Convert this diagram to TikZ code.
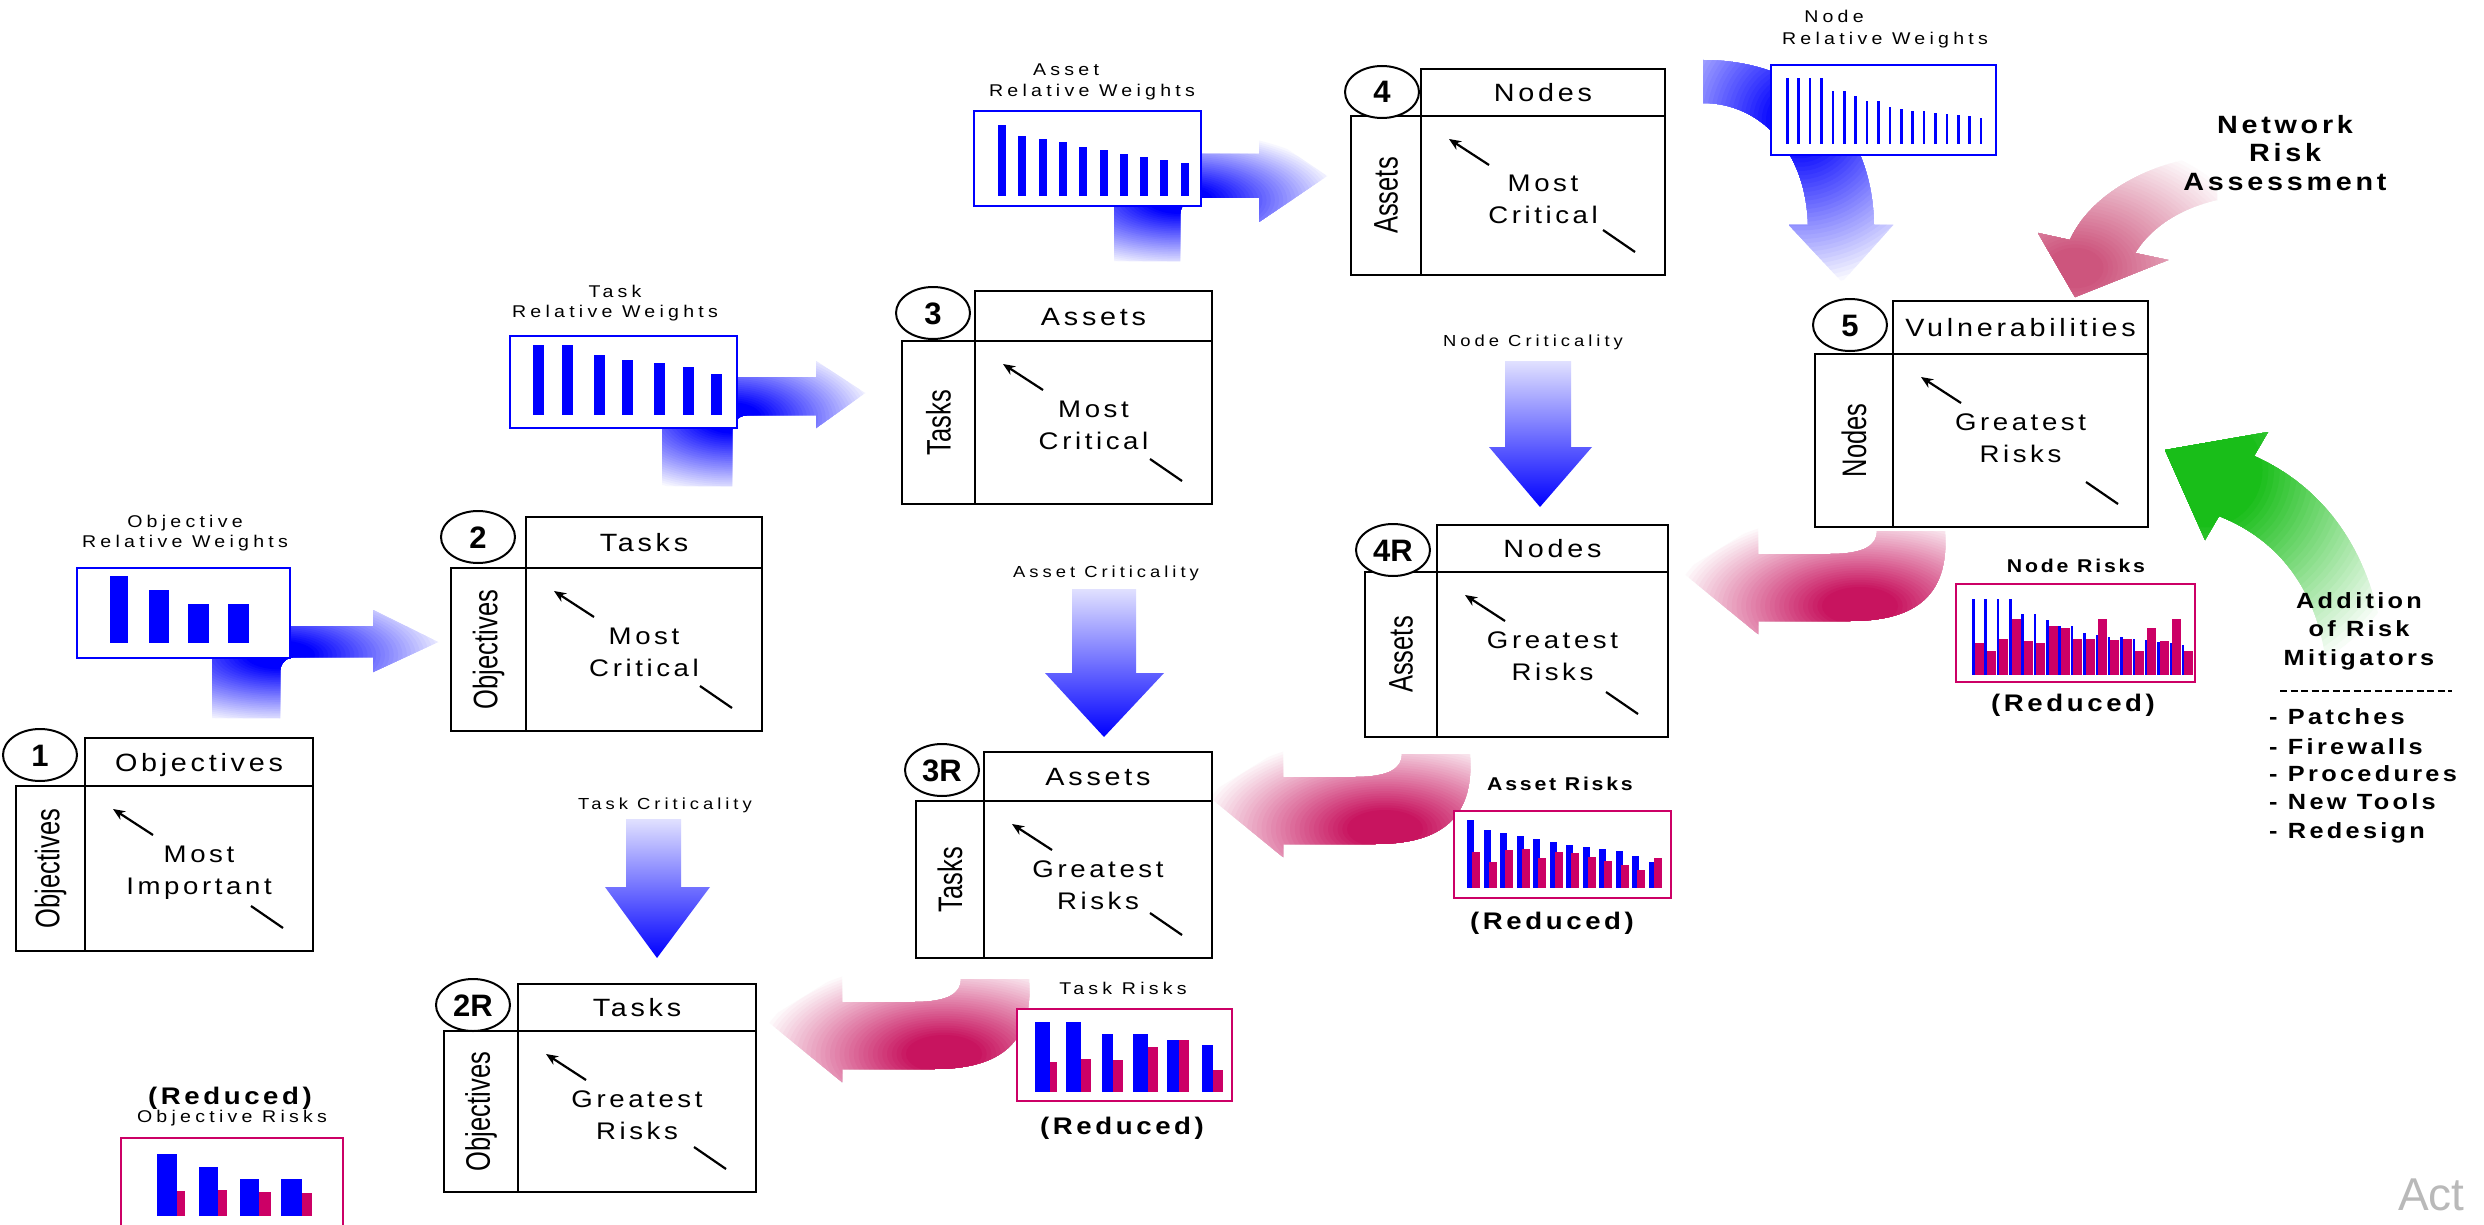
\documentclass[tikz,border=0pt]{standalone}
\usepackage{fontspec}
\setmainfont{Liberation Sans}
\newfontfamily\wfont[FakeStretch=1.15,LetterSpace=15]{Liberation Sans}
\newfontfamily\sfont[FakeStretch=1.15,LetterSpace=25]{Liberation Sans}
\newfontfamily\sidefont[FakeStretch=0.75]{Liberation Sans}
\usetikzlibrary{arrows.meta}

\definecolor{wblue}{RGB}{0,0,255}
\definecolor{paleblue}{RGB}{225,225,255}
\definecolor{rpink}{RGB}{204,0,102}
\definecolor{crim}{RGB}{200,20,95}
\definecolor{nradark}{RGB}{205,85,125}
\definecolor{grn}{RGB}{25,190,25}
\definecolor{wmark}{RGB}{185,185,185}

% straight downward arrows: pale top, blue head
\pgfdeclareverticalshading{downblue}{100bp}{color(0bp)=(wblue); color(25bp)=(wblue); color(75bp)=(paleblue); color(100bp)=(paleblue)}

% Fill a path with an elliptic glow: #1 path, #2 centre, #3/#4 radii,
% #5 inner colour, #6 solid fraction of the radius, #7 outer colour
\newcommand\glowfill[7]{%
  \begin{scope}
    \clip #1;
    \foreach \k in {0,...,39}{%
      \pgfmathsetmacro\gf{1-\k/40}%
      \pgfmathsetmacro\gp{min(100,100*(1-\gf)/(1-#6))}%
      \pgfmathsetmacro\grx{\gf*#3}%
      \pgfmathsetmacro\gry{\gf*#4}%
      \fill[#5!\gp!#7] #2 ellipse [x radius=\grx, y radius=\gry];
    }%
  \end{scope}}

\tikzset{
  frame/.style={draw=black, line width=2.6, fill=white},
  hdr/.style={inner sep=0, anchor=base, font=\wfont\fontsize{25}{30}\selectfont},
  bodytxt/.style={inner sep=0, anchor=base, font=\wfont\fontsize{24}{32}\selectfont},
  sidetxt/.style={inner sep=0, rotate=90, font=\sidefont\fontsize{34}{34}\selectfont},
  numtxt/.style={inner sep=0, anchor=base, font=\bfseries\fontsize{31}{31}\selectfont},
  numring/.style={draw=black, line width=2, fill=white},
  diag/.style={line width=2.2, -{Stealth[length=12,width=10]}},
  tick/.style={line width=2.2},
  lab/.style={inner sep=0, align=center, font=\sfont\fontsize{17}{20}\selectfont},
  blab/.style={inner sep=0, font=\wfont\bfseries\fontsize{18.5}{22}\selectfont},
  redlab/.style={inner sep=0, font=\wfont\bfseries\fontsize{24}{28}\selectfont},
  biglab/.style={inner sep=0, align=center, font=\wfont\bfseries\fontsize{25}{28.5}\selectfont},
  mitlab/.style={inner sep=0, align=center, font=\wfont\bfseries\fontsize{22}{28.5}\selectfont},
  listlab/.style={inner sep=0, anchor=base west, font=\wfont\bfseries\fontsize{22}{28}\selectfont},
  wchart/.style={draw=wblue, line width=2.5, fill=white},
  rchart/.style={draw=rpink, line width=2.5, fill=white},
}

\begin{document}
\begin{tikzpicture}[x=1pt,y=-1pt]
\useasboundingbox (0,0) rectangle (2484,1225);
\clip (0,0) rectangle (2484,1225);
\fill[white] (0,0) rectangle (2484,1225);

% ---------- big shaded arrows (behind everything) ----------
% weights -> matrices (bent arrows)
\glowfill{(212,718) -- (212,626) -- (373,626) -- (373,610) -- (438,642) -- (373,672) -- (373,657) -- (296,657) .. controls (286,657) and (280,663) .. (280,673) -- (280,718) -- cycle}{(280,655)}{175}{72}{wblue}{0.2}{white}
\glowfill{(662,486) -- (662,377) -- (816,377) -- (816,361) -- (865,393) -- (816,428) -- (816,415) -- (750,415) .. controls (738,415) and (732,421) .. (732,433) -- (732,486) -- cycle}{(732,418)}{150}{78}{wblue}{0.2}{white}
\glowfill{(1114,261) -- (1114,154) -- (1259,154) -- (1259,130) -- (1327,176) -- (1259,222) -- (1259,198) -- (1200,198) .. controls (1188,198) and (1180,204) .. (1180,216) -- (1180,261) -- cycle}{(1180,200)}{165}{70}{wblue}{0.2}{white}
% node weights -> vulnerabilities
\glowfill{(1703,60) .. controls (1800,60) and (1872,120) .. (1874,225) -- (1893,225) -- (1842,282) -- (1789,225) -- (1808,225) .. controls (1806,150) and (1760,103) .. (1703,103) -- cycle}{(1800,120)}{170}{170}{wblue}{0.15}{white}
% criticality arrows
\shade[shading=downblue] (626,819) -- (626,887) -- (605,887) -- (657,958) -- (710,887) -- (681,887) -- (681,819) -- cycle;
\shade[shading=downblue] (1072,589) -- (1072,673) -- (1045,673) -- (1104,737) -- (1164,673) -- (1136,673) -- (1136,589) -- cycle;
\shade[shading=downblue] (1505,361) -- (1505,447) -- (1489,447) -- (1540,507) -- (1592,447) -- (1571,447) -- (1571,361) -- cycle;
% reduced-risk feedback arrows
\foreach \dx/\dy in {0/0, -475/223, -916/448}{
  \begin{scope}[shift={(\dx,\dy)}]
    \glowfill{(1945,531) .. controls (1950,600) and (1910,621) .. (1850,621) -- (1758,621) -- (1758,634) -- (1682,572) -- (1758,525) -- (1758,554) -- (1830,554) .. controls (1865,554) and (1877,545) .. (1877,531) -- cycle}{(1860,606)}{190}{95}{crim}{0.2}{white}
  \end{scope}
}
% network risk assessment
\glowfill{(2217,155) .. controls (2150,160) and (2090,195) .. (2070,240) -- (2038,233) -- (2075,297) -- (2168,260) -- (2135,253) .. controls (2150,228) and (2180,208) .. (2217,200) -- cycle}{(2075,268)}{190}{135}{nradark}{0.15}{white}
% addition of risk mitigators
\glowfill{(2254,456) -- (2268,432) -- (2165,450) -- (2205,540) -- (2219,516) .. controls (2280,540) and (2315,590) .. (2325,655) -- (2385,655) .. controls (2375,560) and (2330,490) .. (2254,456) -- cycle}{(2205,470)}{230}{230}{grn}{0.25}{white}

% ---------- criticality matrices ----------
\foreach \Nm/\XL/\XH/\XR/\YT/\YM/\YB/\CX/\CY/\Nb/\Hd/\Sd/\Ta/\Tb in {
  b1/16/85/313/738/786/951/40/755/1/Objectives/Objectives/Most/Important,
  b2/451/526/762/517/568/731/478/537/2/Tasks/Objectives/Most/Critical,
  b3/902/975/1212/291/341/504/933/313/3/Assets/Tasks/Most/Critical,
  b4/1351/1421/1665/69/116/275/1382/92/4/Nodes/Assets/Most/Critical,
  b5/1815/1893/2148/301/354/527/1850/325/5/Vulnerabilities/Nodes/Greatest/Risks,
  b4r/1365/1437/1668/525/572/737/1393/550/4R/Nodes/Assets/Greatest/Risks,
  b3r/916/984/1212/752/801/958/942/770/3R/Assets/Tasks/Greatest/Risks,
  b2r/444/518/756/984/1031/1192/473/1005/2R/Tasks/Objectives/Greatest/Risks}{
  \draw[frame] (\XH,\YT) rectangle (\XR,\YM);
  \draw[frame] (\XL,\YM) rectangle (\XH,\YB);
  \draw[frame] (\XH,\YM) rectangle (\XR,\YB);
  \draw[numring] (\CX,\CY) ellipse [x radius=37, y radius=26];
  \node[numtxt] (\Nm-num) at (\CX,\CY+11) {\Nb};
  \node[hdr] (\Nm-hd) at ({(\XH+\XR)/2},{(\YT+\YM)/2+9}) {\Hd};
  \node[sidetxt] (\Nm-sd) at ({(\XL+\XH)/2},{(\YM+\YB)/2}) {\Sd};
  \node[bodytxt] (\Nm-ta) at ({(\XH+\XR)/2},\YM+76) {\Ta};
  \node[bodytxt] (\Nm-tb) at ({(\XH+\XR)/2},\YM+108) {\Tb};
  \draw[diag] (\XH+68,\YM+49) -- (\XH+28,\YM+23);
  \draw[tick] (\XR-62,\YB-45) -- (\XR-30,\YB-23);
}

% ---------- relative weight charts ----------
\node[lab] (ow-lab) at (185,533) {Objective\\Relative Weights};
\draw[wchart] (77,568) rectangle (290,658);
\foreach \a/\b/\t in {110/128/576, 149/169/590, 188/209/604, 228/249/604}
  \fill[wblue] (\a,\t) rectangle (\b,643);

\node[lab] (tw-lab) at (615,303) {Task\\Relative Weights};
\draw[wchart] (510,336) rectangle (737,428);
\foreach \a/\t in {533/345, 562/345, 594/355, 622/360, 654/363, 683/367, 711/374}
  \fill[wblue] (\a,\t) rectangle (\a+11,415);

\node[lab] (aw-lab1) at (1066,70) {Asset};
\node[lab] (aw-lab2) at (1092,92) {Relative Weights};
\draw[wchart] (974,111) rectangle (1201,206);
\foreach \i/\t in {0/125, 1/136, 2/139, 3/142, 4/147, 5/150, 6/154, 7/157, 8/160, 9/163}
  \fill[wblue] ({998+20.3*\i},\t) rectangle ({1006+20.3*\i},196);

\node[lab] (nw-lab1) at (1834,16) {Node};
\node[lab] (nw-lab2) at (1885,40) {Relative Weights};
\draw[wchart] (1771,65) rectangle (1996,155);
\foreach \i/\t in {0/78, 1/78, 2/78, 3/78, 4/91, 5/91, 6/96, 7/101, 8/101, 9/107, 10/109, 11/111, 12/111, 13/113, 14/114, 15/115, 16/116, 17/118}
  \fill[wblue] ({1786+11.4*\i},\t) rectangle ({1788.5+11.4*\i},144);

% ---------- criticality labels ----------
\node[lab, font=\sfont\fontsize{16}{20}\selectfont] (tc-lab) at (665,805) {Task Criticality};
\node[lab, font=\sfont\fontsize{16}{20}\selectfont] (ac-lab) at (1106,573) {Asset Criticality};
\node[lab, font=\sfont\fontsize{16}{20}\selectfont] (nc-lab) at (1533,342) {Node Criticality};

% ---------- risk charts ----------
% node risks
\node[blab] (nr-lab) at (2076,566) {Node Risks};
\draw[rchart] (1956,584) rectangle (2195,682);
\foreach \i/\bt/\pt in {0/599/643, 1/599/651, 2/599/639, 3/599/619, 4/614/641, 5/614/643, 6/620/626, 7/626/628, 8/626/639, 9/633/639, 10/635/619, 11/637/640, 12/637/639, 13/639/651, 14/640/628, 15/642/641, 16/643/619, 17/645/651}{
  \fill[wblue] ({1972+12.35*\i},\bt) rectangle ({1974.5+12.35*\i},675);
  \fill[rpink] ({1974.5+12.35*\i},\pt) rectangle ({1983.5+12.35*\i},675);
}
\node[redlab] (nr-red) at (2073,705) {(Reduced)};

% asset risks
\node[blab] (ar-lab) at (1560,784) {Asset Risks};
\draw[rchart] (1454,811) rectangle (1671,898);
\foreach \i/\bt/\pt in {0/820/852, 1/830/862, 2/833/850, 3/836/849, 4/839/858, 5/842/852, 6/845/853, 7/847/857, 8/849/861, 9/851/865, 10/856/870, 11/862/858}{
  \fill[wblue] ({1467+16.5*\i},\bt) rectangle ({1474+16.5*\i},888);
  \fill[rpink] ({1472+16.5*\i},\pt) rectangle ({1480+16.5*\i},888);
}
\node[redlab] (ar-red) at (1552,923) {(Reduced)};

% task risks
\node[lab] (trk-lab) at (1123,988) {Task Risks};
\draw[rchart] (1017,1009) rectangle (1232,1101);
\foreach \a/\b/\c/\bt/\pt in {1035/1050/1057/1022/1062, 1066/1081/1091/1022/1059, 1102/1113/1123/1034/1060, 1133/1148/1158/1034/1047, 1167/1179/1189/1040/1040, 1202/1213/1223/1045/1070}{
  \fill[wblue] (\a,\bt) rectangle (\b,1092);
  \fill[rpink] (\b,\pt) rectangle (\c,1092);
}
\node[redlab] (trk-red) at (1122,1128) {(Reduced)};

% objective risks
\node[redlab] (or-red) at (230,1098) {(Reduced)};
\node[lab] (or-lab) at (232,1118) {Objective Risks};
\draw[rchart] (121,1138) rectangle (343,1260);
\foreach \a/\b/\c/\bt/\pt in {157/177/185/1154/1191, 199/218/227/1167/1190, 240/259/271/1179/1192, 281/302/312/1179/1193}{
  \fill[wblue] (\a,\bt) rectangle (\b,1216);
  \fill[rpink] (\b,\pt) rectangle (\c,1216);
}

% ---------- side annotations ----------
\node[biglab] (nra-lab) at (2285,153) {Network\\Risk\\Assessment};
\node[mitlab] (mit-lab) at (2359,631) {Addition\\of Risk\\Mitigators};
\draw[line width=2, dash pattern=on 7 off 3.5] (2280,691) -- (2452,691);
\node[listlab] (mit-1) at (2269,724) {- Patches};
\node[listlab] (mit-2) at (2269,754) {- Firewalls};
\node[listlab] (mit-3) at (2269,781) {- Procedures};
\node[listlab] (mit-4) at (2269,809) {- New Tools};
\node[listlab] (mit-5) at (2269,838) {- Redesign};

% faint corner watermark
\node[inner sep=0, anchor=base west, text=wmark, font=\fontsize{46}{48}\selectfont] (wm) at (2398,1210) {Act};
\end{tikzpicture}
\end{document}
